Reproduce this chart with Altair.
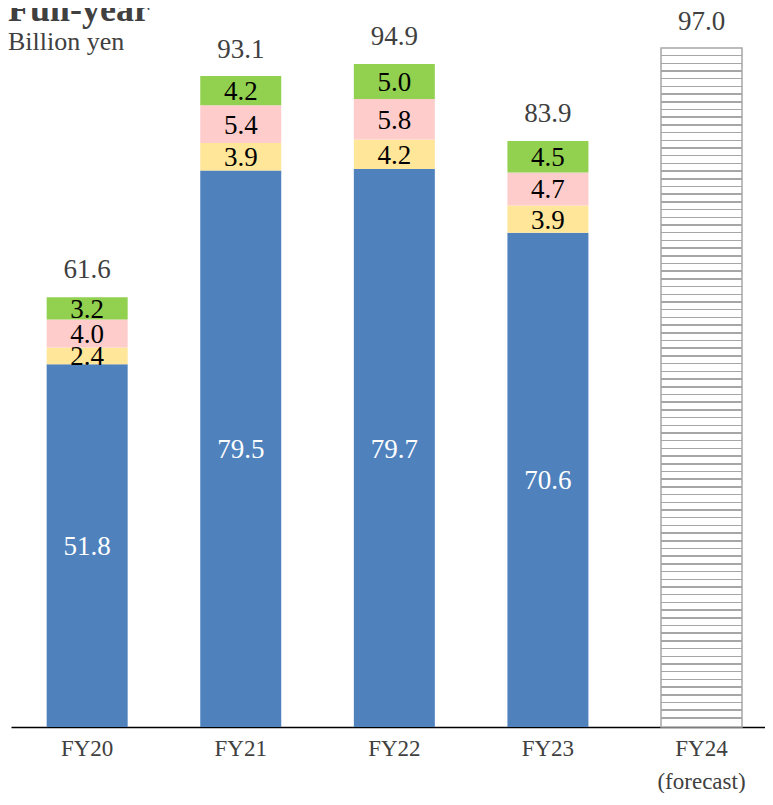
import altair as alt
import pandas as pd

years = ["FY20", "FY21", "FY22", "FY23", "FY24"]
seg_names = ["Segment A", "Segment B", "Segment C", "Segment D"]
seg_a = [51.8, 79.5, 79.7, 70.6]
seg_b = [2.4, 3.9, 4.2, 3.9]
seg_c = [4.0, 5.4, 5.8, 4.7]
seg_d = [3.2, 4.2, 5.0, 4.5]
totals = [61.6, 93.1, 94.9, 83.9, 97.0]
forecast_year = "FY24"

seg_colors = ["#4F81BD", "#FFE699", "#FFCCCC", "#92D050"]
FONT = "'Liberation Serif', 'Times New Roman', Times, serif"
GRAY = "#404040"

rows = []
for i, y in enumerate(years[:4]):
    for k, (name, vals) in enumerate(zip(seg_names, [seg_a, seg_b, seg_c, seg_d])):
        rows.append({"year": y, "segment": name, "ord": k, "value": vals[i]})
df = pd.DataFrame(rows)
tot_df = pd.DataFrame({"year": years, "total": totals})
fc_df = tot_df[tot_df["year"] == forecast_year]

xscale = alt.Scale(domain=years, paddingInner=0.4727, paddingOuter=0.191, align=0.608)
yscale = alt.Scale(domain=[0, 102.7], nice=False, zero=True)

xaxis = alt.Axis(
    title=None, ticks=False, grid=False, labelAngle=0,
    labelFont=FONT, labelFontSize=23, labelColor=GRAY,
    labelBaseline="alphabetic", labelPadding=28, labelLineHeight=33,
    labelOverlap=False, labelFlush=False,
    labelExpr="datum.value == 'FY24' ? ['FY24', '(forecast)'] : datum.value",
    domainColor="black", domainWidth=1.5,
)

X = alt.X("year:N", scale=xscale, axis=xaxis, sort=years)

bars = alt.Chart(df).mark_bar().encode(
    x=X,
    y=alt.Y("value:Q", stack="zero", scale=yscale, axis=None),
    color=alt.Color("segment:N", scale=alt.Scale(domain=seg_names, range=seg_colors), legend=None),
    order=alt.Order("ord:Q", sort="ascending"),
)

seg_labels = alt.Chart(df).transform_stack(
    stack="value", groupby=["year"], as_=["y0", "y1"],
    sort=[alt.SortField("ord", order="ascending")],
).transform_calculate(mid="(datum.y0 + datum.y1) / 2").mark_text(
    font=FONT, fontSize=27, baseline="middle", dy=1.5
).encode(
    x=X,
    y=alt.Y("mid:Q", scale=yscale, axis=None),
    text=alt.Text("value:Q", format=".1f"),
    color=alt.when(alt.datum.segment == seg_names[0]).then(alt.value("white")).otherwise(alt.value("black")),
)

# hatched (horizontal-line) forecast bar
period = 7.7 / 679.0
thick = 1.5 / 679.0
stops = [{"offset": 0, "color": "white"}]
k = 1
while k * period < 1 - period * 0.5:
    o = k * period
    stops += [
        {"offset": round(o - thick / 2, 5), "color": "white"},
        {"offset": round(o - thick / 2, 5), "color": "#A6A6A6"},
        {"offset": round(o + thick / 2, 5), "color": "#A6A6A6"},
        {"offset": round(o + thick / 2, 5), "color": "white"},
    ]
    k += 1
stops.append({"offset": 1, "color": "white"})
hatch = {"gradient": "linear", "x1": 0, "y1": 0, "x2": 0, "y2": 1, "stops": stops}

fc_bar = alt.Chart(fc_df).mark_bar(fill=hatch, stroke="#A6A6A6", strokeWidth=1.5).encode(
    x=X,
    y=alt.Y("total:Q", scale=yscale, axis=None),
)

tot_labels = alt.Chart(tot_df).mark_text(
    font=FONT, fontSize=27, baseline="alphabetic", dy=-17.5, color=GRAY
).encode(
    x=X,
    y=alt.Y("total:Q", scale=yscale, axis=None),
    text=alt.Text("total:Q", format=".1f"),
)

ann = pd.DataFrame({"t": ["Full-year"]})
title_txt = alt.Chart(ann).mark_text(
    font=FONT, fontSize=36, fontWeight="bold", align="left", baseline="alphabetic", color=GRAY
).encode(x=alt.value(-3), y=alt.value(13), text="t:N")

unit = pd.DataFrame({"t": ["Billion yen"]})
unit_txt = alt.Chart(unit).mark_text(
    font=FONT, fontSize=26, align="left", baseline="alphabetic", color=GRAY
).encode(x=alt.value(-3), y=alt.value(42), text="t:N")

chart = alt.layer(bars, fc_bar, seg_labels, tot_labels, title_txt, unit_txt).properties(
    width=754, height=719,
    autosize=alt.AutoSizeParams(type="none"),
    padding={"left": 3, "top": 0, "right": 0, "bottom": 66},
    background="white",
).configure_view(stroke=None)

chart.save("out.html", embed_options={"renderer": "svg", "actions": False})
